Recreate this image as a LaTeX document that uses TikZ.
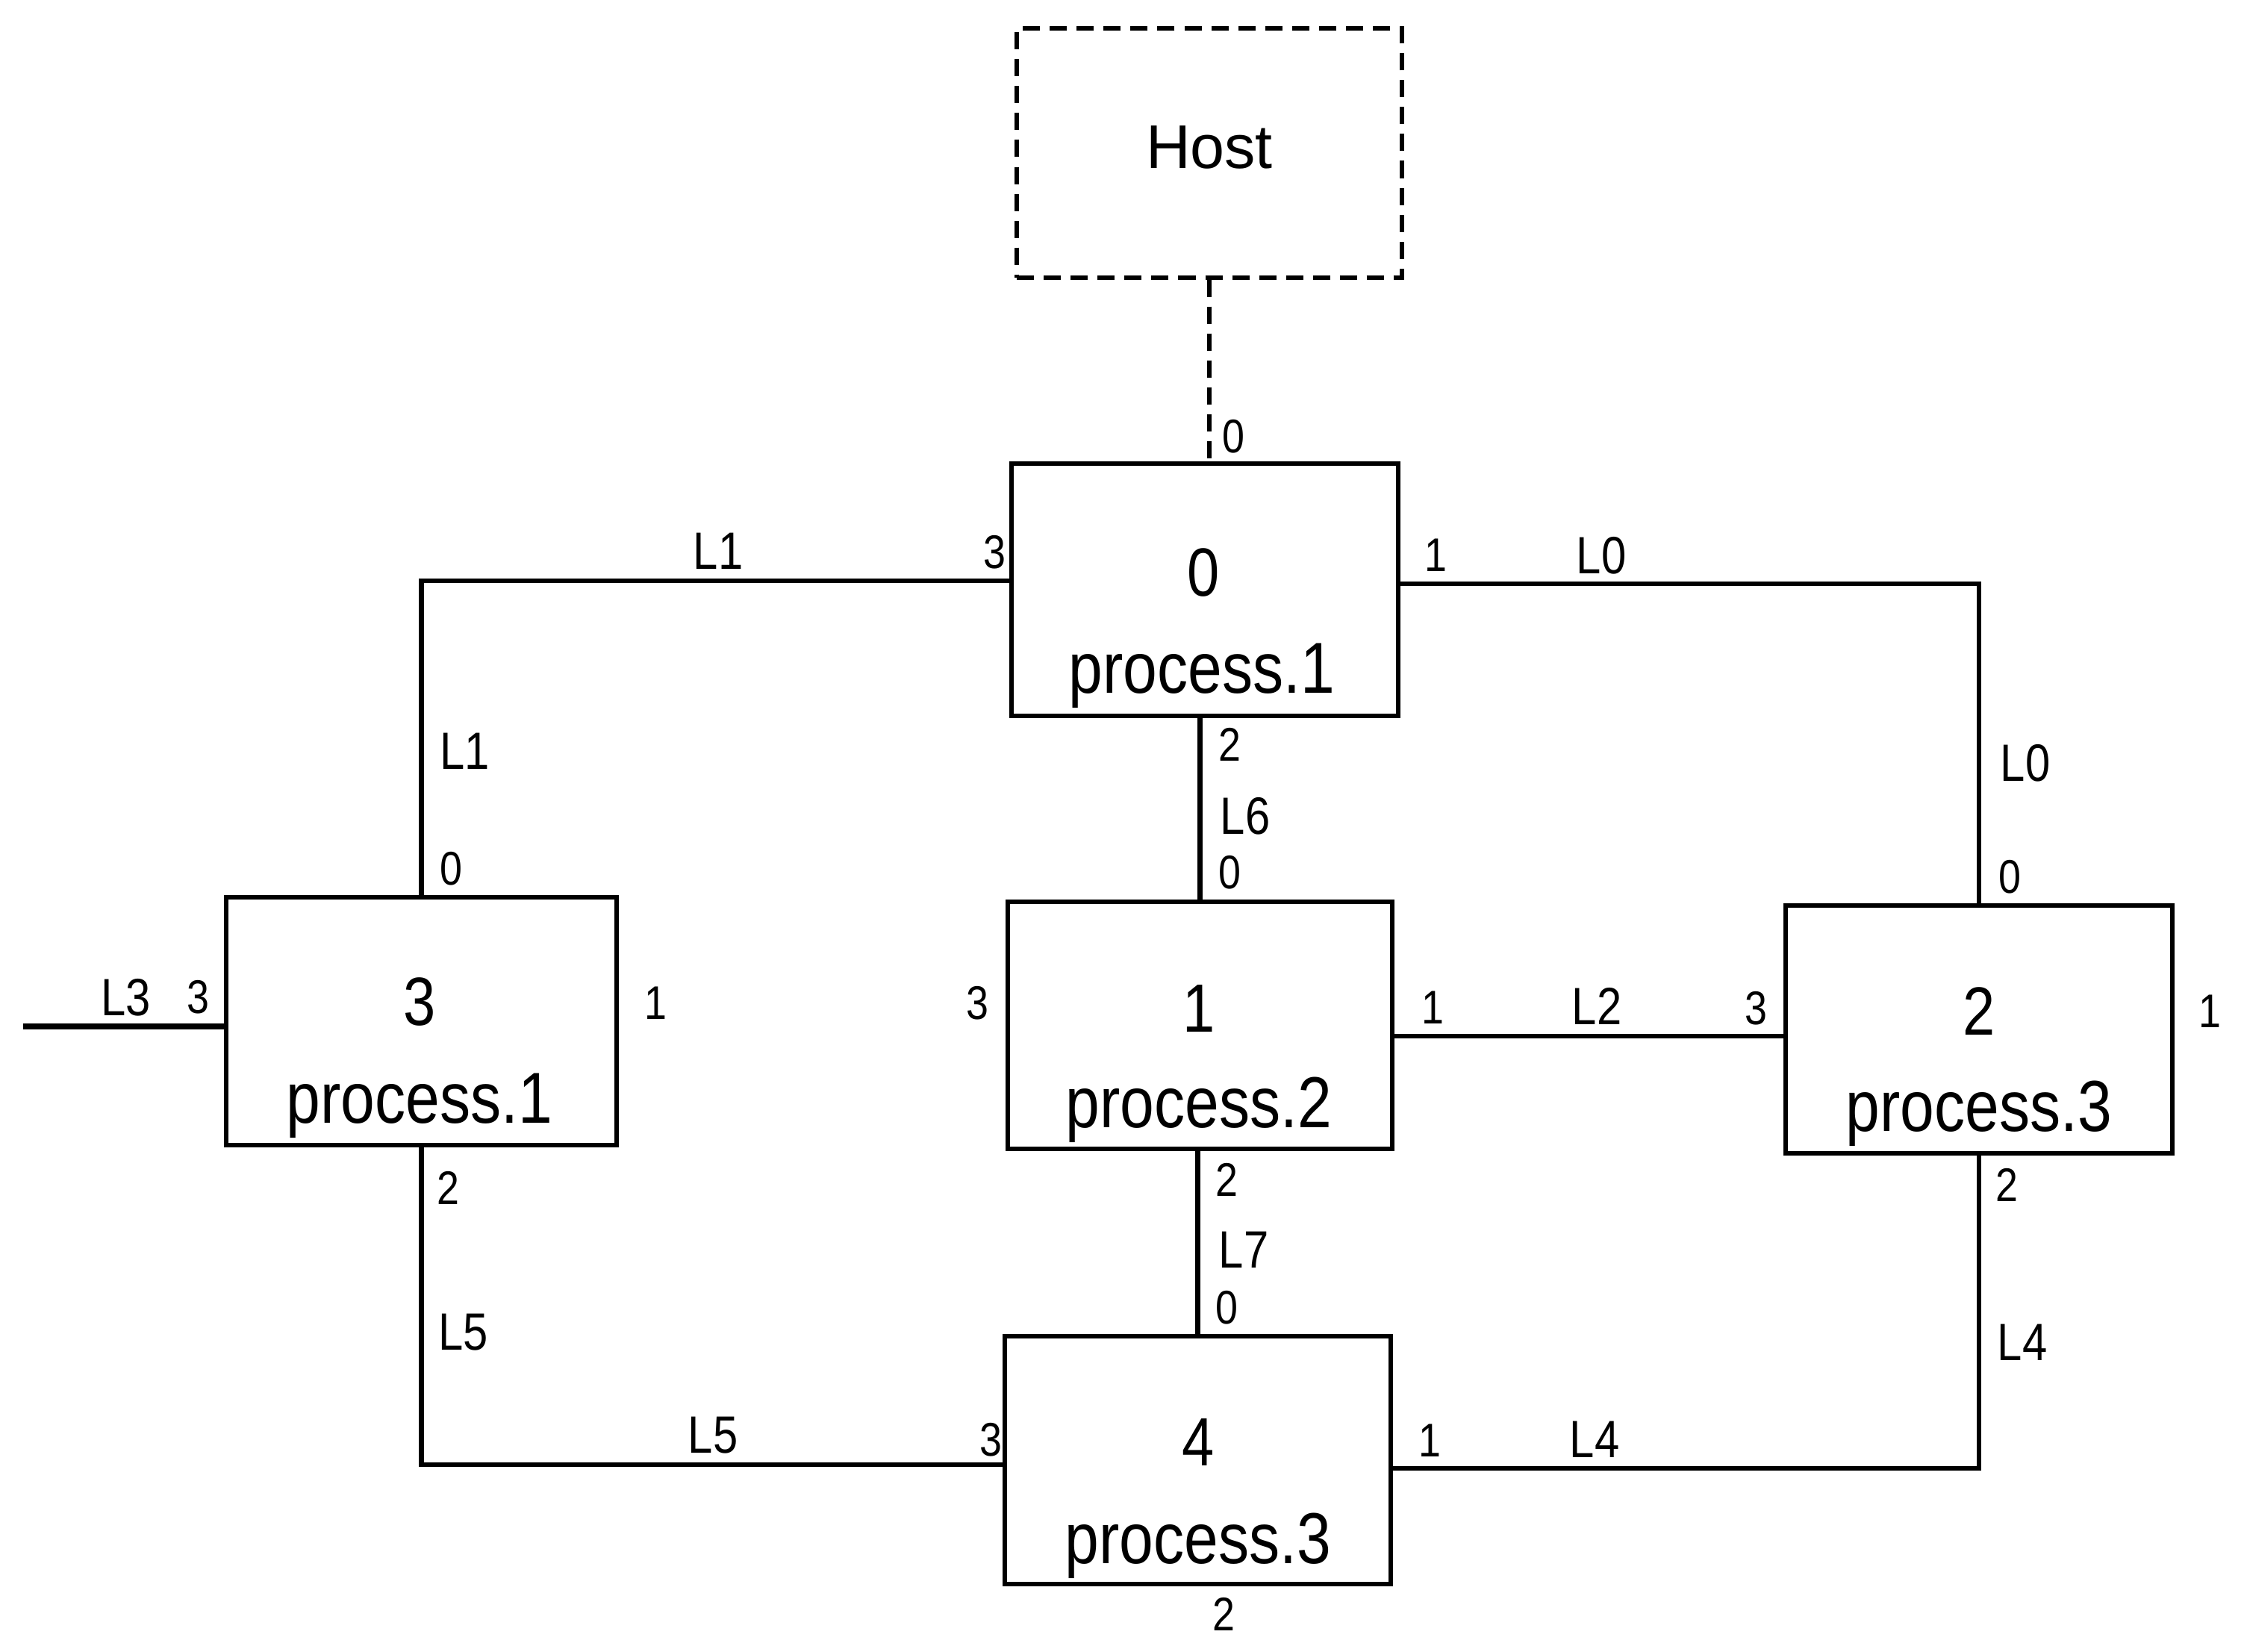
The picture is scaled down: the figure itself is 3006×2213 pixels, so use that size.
\documentclass[tikz,border=0pt]{standalone}
\usepackage{fontspec}
\setmainfont{Liberation Sans}
\newfontfamily\narrowsf[FakeStretch=0.85]{Liberation Sans}
\begin{document}
\begin{tikzpicture}[x=0.01cm,y=-0.01cm,
  box/.style={draw,line width=1.7pt,rectangle,inner sep=0pt},
  hostbox/.style={box,dash pattern=on 0.23cm off 0.13cm},
  link/.style={line width=1.8pt},
  hostlink/.style={line width=1.7pt,dash pattern=on 0.23cm off 0.13cm},
  bignum/.style={font=\fontsize{26}{29}\selectfont\narrowsf,inner sep=0pt},
  proc/.style={font=\fontsize{27.5}{30}\selectfont\narrowsf,inner sep=0pt},
  port/.style={font=\fontsize{18}{20}\selectfont\narrowsf,inner sep=0pt},
  lname/.style={font=\fontsize{20}{22}\selectfont\narrowsf,inner sep=0pt}]
\useasboundingbox (0,0) rectangle (3006,2213);

% boxes
\node[hostbox,minimum width=5.15cm,minimum height=3.33cm] (host) at (1620,205) {};
\node[font=\fontsize{23.5}{26}\selectfont,inner sep=0pt] (hosttxt) at (1620,197) {Host};
\node[box,minimum width=5.18cm,minimum height=3.38cm] (b0) at (1614,790) {};
\node[box,minimum width=5.15cm,minimum height=3.31cm] (b1) at (1607.5,1373.5) {};
\node[box,minimum width=5.18cm,minimum height=3.32cm] (b2) at (2651,1379) {};
\node[box,minimum width=5.23cm,minimum height=3.32cm] (b3) at (564.5,1368) {};
\node[box,minimum width=5.17cm,minimum height=3.32cm] (b4) at (1604.5,1956) {};

% box texts
\node[bignum] (n0) at (1612,767) {0};
\node[proc] (p0) at (1610,905) {process.1};
\node[bignum] (n1) at (1606,1351) {1};
\node[proc] (p1) at (1606,1487) {process.2};
\node[bignum] (n2) at (2651,1355) {2};
\node[proc] (p2) at (2651,1492) {process.3};
\node[bignum] (n3) at (562,1342) {3};
\node[proc] (p3) at (562,1481) {process.1};
\node[bignum] (n4) at (1605,1932) {4};
\node[proc] (p4) at (1605,2071) {process.3};

% connectors
\coordinate (l3end) at (31,1375);
\draw[hostlink] (host.south) -- (host.south |- b0.north);
\draw[link] (b0.west |- 0,778) -| (b3.north);
\draw[link] (b0.east |- 0,782) -| (b2.north);
\draw[link] (b1.north |- b0.south) -- (b1.north);
\draw[link] (b1.east |- 0,1388) -- (b2.west |- 0,1388);
\draw[link] (b4.north |- b1.south) -- (b4.north);
\draw[link] (b3.south) |- (b4.west |- 0,1962);
\draw[link] (b4.east |- 0,1967) -| (b2.south);
\draw[line width=2.2pt] (l3end) -- (b3.west |- l3end);

% port numbers
\node[port] (q1) at (1652,585) {0};
\node[port] (q2) at (1332,740) {3};
\node[port] (q3) at (1923,744) {1};
\node[port] (q4) at (1647,997) {2};
\node[port] (q5) at (1647,1169) {0};
\node[port] (q6) at (604,1164) {0};
\node[port] (q7) at (2692,1175) {0};
\node[port] (q8) at (265,1336) {3};
\node[port] (q9) at (878,1344) {1};
\node[port] (q10) at (1309,1344) {3};
\node[port] (q11) at (1919,1350) {1};
\node[port] (q12) at (2352,1351) {3};
\node[port] (q13) at (2960,1355) {1};
\node[port] (q14) at (600,1591) {2};
\node[port] (q15) at (1643,1580) {2};
\node[port] (q16) at (1643,1752) {0};
\node[port] (q17) at (2688,1587) {2};
\node[port] (q18) at (1327,1929) {3};
\node[port] (q19) at (1915,1930) {1};
\node[port] (q20) at (1639,2162) {2};

% link names
\node[lname] (m1) at (962,738) {L1};
\node[lname] (m2) at (2145,744) {L0};
\node[lname] (m3) at (1668,1093) {L6};
\node[lname] (m4) at (623,1006) {L1};
\node[lname] (m5) at (2713,1022) {L0};
\node[lname] (m6) at (169,1336) {L3};
\node[lname] (m7) at (2139,1348) {L2};
\node[lname] (m8) at (621,1785) {L5};
\node[lname] (m9) at (1666,1674) {L7};
\node[lname] (m10) at (2709,1798) {L4};
\node[lname] (m11) at (955,1923) {L5};
\node[lname] (m12) at (2136,1928) {L4};
\end{tikzpicture}
\end{document}
